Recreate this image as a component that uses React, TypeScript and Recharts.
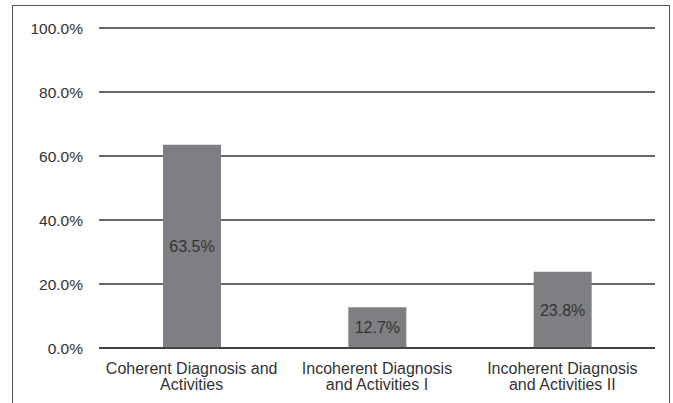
import React from "react";
import { BarChart, Bar, XAxis, YAxis, CartesianGrid, LabelList } from "recharts";

const categories = [
  "Coherent Diagnosis and|Activities",
  "Incoherent Diagnosis|and Activities I",
  "Incoherent Diagnosis|and Activities II",
];
const values = [63.5, 12.7, 23.8];
const yTicks = [0, 20, 40, 60, 80, 100];

const data = categories.map((c, i) => ({ name: c, value: values[i] }));

const FONT = '"Liberation Sans", Arial, Helvetica, sans-serif';
const TEXT = "#333333";

const XTick = (props: any) => {
  const { x, y, payload } = props;
  const lines = String(payload.value).split("|");
  return (
    <text
      x={x}
      y={y + 25.5}
      textAnchor="middle"
      fill={TEXT}
      fontSize={16}
      fontFamily={FONT}
    >
      {lines.map((l, i) => (
        <tspan key={i} x={x} dy={i === 0 ? 0 : 16}>
          {l}
        </tspan>
      ))}
    </text>
  );
};

export default function App() {
  return (
    <div
      style={{
        position: "absolute",
        left: 0,
        top: 0,
        width: 673,
        height: 403,
        overflow: "hidden",
        background: "#fff",
      }}
    >
      <div
        style={{
          position: "absolute",
          left: 12,
          top: 5,
          width: 658,
          height: 430,
          border: "1.5px solid #555",
          boxSizing: "border-box",
        }}
      />
      <div style={{ position: "absolute", left: 0, top: 0 }}>
        <BarChart
          width={673}
          height={403}
          data={data}
          margin={{ top: 28, right: 18, bottom: 25, left: 0 }}
          barSize={58}
        >
          <CartesianGrid vertical={false} stroke="#333" strokeWidth={1.3} />
          <XAxis
            dataKey="name"
            height={30}
            tick={<XTick />}
            tickLine={false}
            tickSize={0}
            tickMargin={0}
            axisLine={{ stroke: "#333", strokeWidth: 1.3 }}
            interval={0}
          />
          <YAxis
            width={99}
            domain={[0, 100]}
            ticks={yTicks}
            axisLine={false}
            tickLine={false}
            tickMargin={10}
            tickFormatter={(v: number) => v.toFixed(1) + "%"}
            tick={{ fill: TEXT, fontSize: 15.5, fontFamily: FONT }}
          />
          <Bar dataKey="value" fill="#7f7f83" isAnimationActive={false}>
            <LabelList
              dataKey="value"
              position="center"
              formatter={(v: any) => Number(v).toFixed(1) + "%"}
              fill={TEXT}
              fontSize={16}
              fontFamily={FONT}
            />
          </Bar>
        </BarChart>
      </div>
    </div>
  );
}
